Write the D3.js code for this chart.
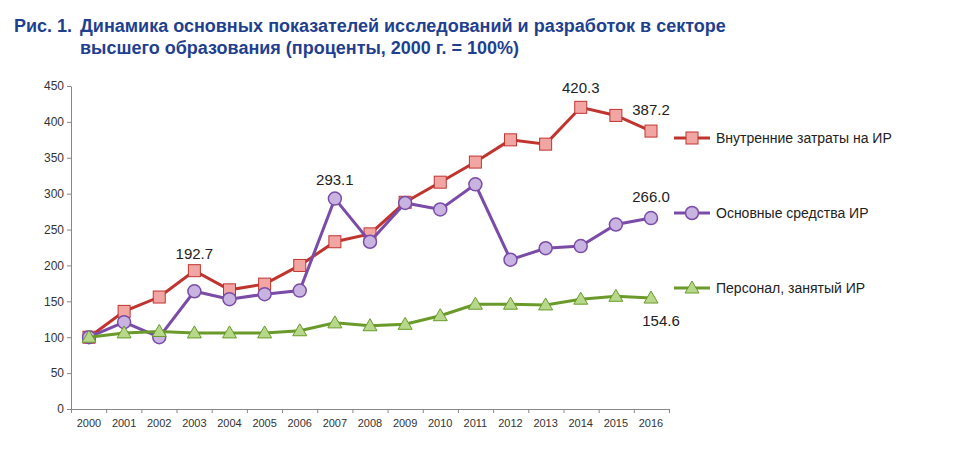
<!DOCTYPE html>
<html><head><meta charset="utf-8">
<script src="https://cdn.jsdelivr.net/npm/d3@7"></script>
<style>body{margin:0;background:#fff;font-family:"Liberation Sans",Arial,sans-serif}</style>
</head><body><svg id="c" width="960" height="458"></svg>
<script>
const years=[2000,2001,2002,2003,2004,2005,2006,2007,2008,2009,2010,2011,2012,2013,2014,2015,2016];
const costs=[100,136,156,192.7,166,174,200,233,244,288,316,344,375,369,420.3,409,387.2];
const assets=[100,121,100,164,153,160,165,293.1,233,287,278,313,208,224,227,257,266.0];
const staff=[100,106,108,106,106,106,109,120,116,118,130,146,146,145,153,157,154.6];
const yTicks=[0,50,100,150,200,250,300,350,400,450];
const seriesNames=["Внутренние затраты на ИР","Основные средства ИР","Персонал, занятый ИР"];

const svg=d3.select("#c");
const x=d3.scalePoint().domain(years).range([89,651]);
const y=d3.scaleLinear().domain([0,450]).range([409,86]);

const t=svg.append("text").attr("x",14).attr("y",32).attr("font-size",18).attr("font-weight","bold").attr("fill","#1f3f8f");
t.append("tspan").text("Рис. 1.");
t.append("tspan").attr("x",80).text("Динамика основных показателей исследований и разработок в секторе");
svg.append("text").attr("x",80).attr("y",54).attr("font-size",18).attr("font-weight","bold").attr("fill","#1f3f8f")
 .text("высшего образования (проценты, 2000 г. = 100%)");

const ya=svg.append("g").attr("transform","translate(71,0)").call(d3.axisLeft(y).tickValues(yTicks).tickSize(4).tickSizeOuter(0));
ya.selectAll("text").attr("font-size",12).attr("fill","#333");
ya.selectAll("line,path").attr("stroke","#888");
const xa=svg.append("g").attr("transform","translate(0,409)").call(d3.axisBottom(d3.scaleLinear().domain([0,17]).range([71,669])).tickValues(d3.range(18)).tickFormat("").tickSize(4));
xa.selectAll("line,path").attr("stroke","#888");
years.forEach(yr=>svg.append("text").attr("x",x(yr)).attr("y",427).attr("text-anchor","middle").attr("font-size",11).attr("fill","#333").text(yr));

const series=[
 {d:costs,c:"#c0342f",f:"#f2a6a3",shape:"sq"},
 {d:assets,c:"#7a4ca8",f:"#c9b3e0",shape:"ci"},
 {d:staff,c:"#6a9a2a",f:"#b7d88a",shape:"tr"}];
const line=d3.line().x((d,i)=>x(years[i])).y(d=>y(d));
series.forEach(s=>{
 svg.append("path").attr("d",line(s.d)).attr("fill","none").attr("stroke",s.c).attr("stroke-width",3);
 s.d.forEach((v,i)=>{
  const cx=x(years[i]),cy=y(v);
  if(s.shape==="sq") svg.append("rect").attr("x",cx-6).attr("y",cy-6).attr("width",12).attr("height",12).attr("fill",s.f).attr("stroke",s.c);
  else if(s.shape==="ci") svg.append("circle").attr("cx",cx).attr("cy",cy).attr("r",6.5).attr("fill",s.f).attr("stroke",s.c).attr("stroke-width",1.5);
  else svg.append("path").attr("d",`M${cx},${cy-7}L${cx+7},${cy+5}L${cx-7},${cy+5}Z`).attr("fill",s.f).attr("stroke",s.c);
 });
});
const labels=[[costs,3,0,-12],[costs,14,0,-14],[costs,16,0,-16],[assets,7,0,-14],[assets,16,0,-16],[staff,16,10,28]];
labels.forEach(([d,i,dx,dy])=>svg.append("text").attr("x",x(years[i])+dx).attr("y",y(d[i])+dy).attr("text-anchor","middle").attr("font-size",15).attr("fill","#222").text(d[i].toFixed(1)));

const legY=[138,213,288];
series.forEach((s,k)=>{
 const g=svg.append("g");
 g.append("line").attr("x1",674).attr("x2",710).attr("y1",legY[k]).attr("y2",legY[k]).attr("stroke",s.c).attr("stroke-width",3);
 const cx=692,cy=legY[k];
 if(s.shape==="sq") g.append("rect").attr("x",cx-6).attr("y",cy-6).attr("width",12).attr("height",12).attr("fill",s.f).attr("stroke",s.c);
 else if(s.shape==="ci") g.append("circle").attr("cx",cx).attr("cy",cy).attr("r",6.5).attr("fill",s.f).attr("stroke",s.c).attr("stroke-width",1.5);
 else g.append("path").attr("d",`M${cx},${cy-7}L${cx+7},${cy+5}L${cx-7},${cy+5}Z`).attr("fill",s.f).attr("stroke",s.c);
 g.append("text").attr("x",716).attr("y",legY[k]+5).attr("font-size",14).attr("fill","#222").text(seriesNames[k]);
});
</script></body></html>
